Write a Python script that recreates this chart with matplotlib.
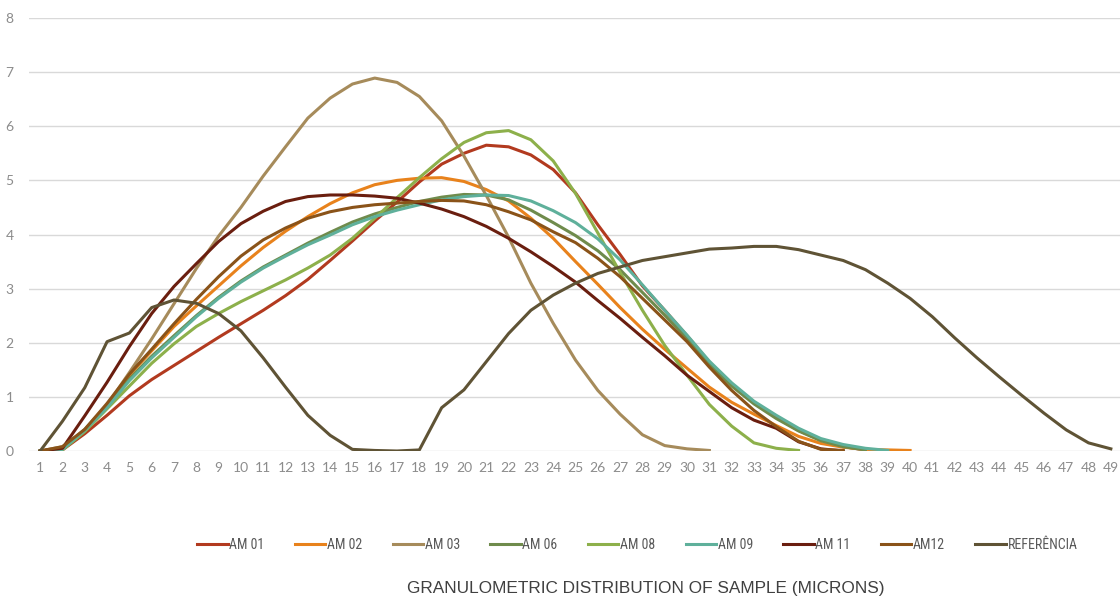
import numpy as np
import matplotlib
matplotlib.use("Agg")
import matplotlib.pyplot as plt

# categorias do eixo x (microns)
x_labels = [str(i) for i in range(1, 50)]

am01 = [0, 0.02, 0.32, 0.66, 1.02, 1.32, 1.58, 1.84, 2.1, 2.35, 2.6, 2.87, 3.17, 3.52, 3.88,
        4.25, 4.6, 4.97, 5.3, 5.5, 5.65, 5.62, 5.47, 5.2, 4.77, 4.18, 3.63, 3.05, 2.6, 2.13,
        1.64, 1.23, 0.9, 0.62, 0.38, 0.2, 0.08, 0.02]
am02 = [0, 0.05, 0.38, 0.85, 1.4, 1.85, 2.3, 2.68, 3.05, 3.42, 3.76, 4.06, 4.33, 4.57, 4.77,
        4.92, 5.0, 5.04, 5.05, 4.98, 4.83, 4.62, 4.3, 3.93, 3.5, 3.08, 2.65, 2.25, 1.88, 1.53,
        1.18, 0.9, 0.68, 0.47, 0.27, 0.14, 0.07, 0.03, 0.02, 0.01]
am03 = [0, 0.08, 0.38, 0.85, 1.45, 2.07, 2.72, 3.37, 3.97, 4.5, 5.08, 5.62, 6.15, 6.52, 6.78,
        6.89, 6.81, 6.55, 6.1, 5.45, 4.72, 3.95, 3.1, 2.36, 1.68, 1.12, 0.68, 0.3, 0.1, 0.04,
        0.01]
am06 = [0, 0.05, 0.4, 0.85, 1.33, 1.75, 2.13, 2.5, 2.84, 3.14, 3.4, 3.62, 3.84, 4.04, 4.23,
        4.38, 4.5, 4.61, 4.69, 4.74, 4.73, 4.64, 4.45, 4.22, 3.98, 3.7, 3.35, 2.93, 2.51, 2.08,
        1.6, 1.2, 0.87, 0.6, 0.37, 0.19, 0.08, 0.02]
am08 = [0, 0.02, 0.36, 0.78, 1.2, 1.62, 1.98, 2.3, 2.54, 2.76, 2.96, 3.16, 3.38, 3.62, 3.93,
        4.3, 4.68, 5.05, 5.4, 5.7, 5.88, 5.92, 5.75, 5.36, 4.76, 4.03, 3.3, 2.6, 1.95, 1.4,
        0.86, 0.46, 0.15, 0.05, 0.01]
am09 = [0, 0.03, 0.38, 0.8, 1.3, 1.72, 2.1, 2.48, 2.82, 3.12, 3.38, 3.6, 3.81, 3.99, 4.18,
        4.33, 4.45, 4.55, 4.64, 4.7, 4.73, 4.72, 4.62, 4.44, 4.22, 3.92, 3.53, 3.07, 2.6, 2.14,
        1.66, 1.26, 0.92, 0.66, 0.42, 0.23, 0.12, 0.05, 0.01]
am11 = [0, 0.05, 0.65, 1.27, 1.93, 2.54, 3.04, 3.46, 3.87, 4.2, 4.43, 4.61, 4.7, 4.73, 4.73,
        4.71, 4.67, 4.58, 4.47, 4.33, 4.15, 3.93, 3.68, 3.41, 3.12, 2.78, 2.45, 2.1, 1.76, 1.4,
        1.1, 0.8, 0.57, 0.42, 0.17, 0.04, 0.0]
am12 = [0, 0.08, 0.4, 0.88, 1.42, 1.88, 2.35, 2.8, 3.22, 3.6, 3.9, 4.12, 4.3, 4.42, 4.5,
        4.55, 4.58, 4.61, 4.63, 4.62, 4.55, 4.42, 4.27, 4.05, 3.85, 3.56, 3.22, 2.82, 2.42, 2.02,
        1.55, 1.12, 0.75, 0.45, 0.18, 0.03, 0.01]
referencia = [0, 0.55, 1.17, 2.02, 2.18, 2.65, 2.79, 2.73, 2.54, 2.22, 1.72, 1.18, 0.66, 0.29, 0.03,
              0.01, 0.0, 0.02, 0.8, 1.13, 1.65, 2.17, 2.6, 2.88, 3.1, 3.28, 3.4, 3.52, 3.59, 3.66,
              3.73, 3.75, 3.78, 3.78, 3.72, 3.62, 3.52, 3.35, 3.1, 2.82, 2.48, 2.09, 1.72, 1.37, 1.03,
              0.7, 0.39, 0.15, 0.04]

series = [
    ("AM 01", am01, "#B23A1F"),
    ("AM 02", am02, "#E8821C"),
    ("AM 03", am03, "#A68B5B"),
    ("AM 06", am06, "#6F8B4C"),
    ("AM 08", am08, "#8DB04B"),
    ("AM 09", am09, "#5FB09B"),
    ("AM 11", am11, "#6A1E0F"),
    ("AM12", am12, "#8A5319"),
    ("REFERÊNCIA", referencia, "#5F5335"),
]

narrow = ["Roboto Condensed", "DejaVu Sans"]

fig = plt.figure(figsize=(11.2, 5.98), dpi=100)
ax = fig.add_axes([29 / 1120, 1 - 451 / 598, 1093 / 1120, 433 / 598])

for name, vals, color in series:
    xs = np.arange(1, len(vals) + 1)
    ax.plot(xs, vals, color=color, lw=2.2, label=name, solid_joinstyle="round")

ax.set_xlim(0.5, 49.5)
ax.set_ylim(0, 8)
ax.set_xticks(np.arange(1, 50))
ax.set_xticklabels(x_labels)
ax.set_yticks(range(0, 9))
ax.grid(axis="y", color="#D9D9D9", lw=1)
ax.set_axisbelow(True)
for s in ax.spines.values():
    s.set_visible(False)
ax.tick_params(length=0, labelsize=10, labelcolor="#8C8C8C")
ax.tick_params(axis="y", pad=11)
ax.tick_params(axis="x", pad=8)
for lab in ax.get_xticklabels() + ax.get_yticklabels():
    lab.set_family("Lato")

leg = fig.legend(loc="center", bbox_to_anchor=(0.569, 0.0886), ncol=9, frameon=False,
                 handlelength=2.2, handletextpad=0.1, columnspacing=2.2,
                 prop={"family": narrow, "size": 10, "stretch": "condensed"})
for t in leg.get_texts():
    t.set_color("#595959")

fig.text(0.5763, 0.0167, "GRANULOMETRIC DISTRIBUTION OF SAMPLE (MICRONS)",
         ha="center", va="center", fontsize=12.4, color="#404040",
         family=["Liberation Sans", "DejaVu Sans"])

fig.savefig("out.png", dpi=100)
